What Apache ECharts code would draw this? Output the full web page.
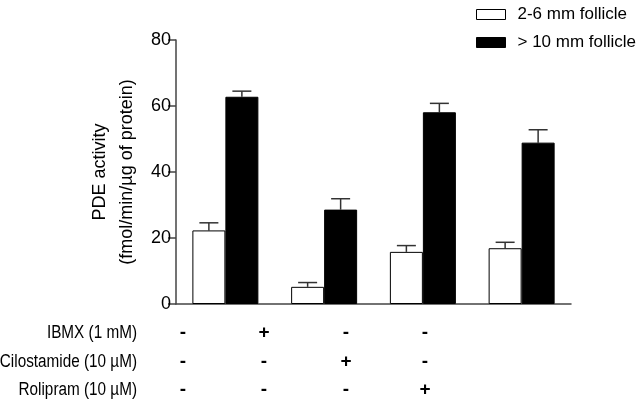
<!DOCTYPE html>
<html>
<head>
<meta charset="utf-8">
<script src="https://cdn.jsdelivr.net/npm/echarts@6/dist/echarts.min.js"></script>
<style>html,body{margin:0;padding:0;background:#fff}#c{width:640px;height:409px}</style>
</head>
<body>
<div id="c"></div>
<script>
var categories = ['Control', 'IBMX', 'Cilostamide', 'Rolipram'];
var seriesNames = ['2-6 mm follicle', '> 10 mm follicle'];
var smallFollicle = [22.3, 5.2, 15.8, 16.9];
var smallFollicleErr = [2.3, 1.3, 1.9, 1.8];
var largeFollicle = [62.8, 28.6, 58.1, 48.9];
var largeFollicleErr = [1.7, 3.3, 2.7, 3.9];
var yTicks = [0, 20, 40, 60, 80];
var yTitle = ['PDE activity', '(fmol/min/\u00b5g of protein)'];
var treatmentLabels = ['IBMX (1 mM)', 'Cilostamide (10 \u00b5M)', 'Rolipram (10 \u00b5M)'];
var treatmentSigns = [
  ['-', '+', '-', '-'],
  ['-', '-', '+', '-'],
  ['-', '-', '-', '+']
];

var FONT = 'Liberation Sans, Arial, Helvetica, sans-serif';
var BAR_W = 33;
var chart = echarts.init(document.getElementById('c'));

function errSeries(vals, errs, offsetSign) {
  return {
    type: 'custom',
    silent: true,
    z: 1,
    data: vals.map(function (v, i) { return [i, v, v + errs[i]]; }),
    renderItem: function (params, api) {
      var base = api.coord([api.value(0), api.value(1)]);
      var top = api.coord([api.value(0), api.value(2)]);
      var x = base[0] + offsetSign * BAR_W / 2;
      var hw = 9.5;
      var st = { stroke: '#333', lineWidth: 1.5 };
      return {
        type: 'group',
        children: [
          { type: 'line', shape: { x1: x, y1: base[1], x2: x, y2: top[1] }, style: st },
          { type: 'line', shape: { x1: x - hw, y1: top[1], x2: x + hw, y2: top[1] }, style: st }
        ]
      };
    }
  };
}

var graphics = [];
graphics.push({
  type: 'text',
  x: 114, y: 172,
  rotation: Math.PI / 2,
  style: {
    text: yTitle.join('\n'),
    font: '18px ' + FONT,
    fill: '#000',
    textAlign: 'center',
    textVerticalAlign: 'middle',
    lineHeight: 27
  }
});
var rowY = [333, 362, 390];
var signX = [183, 264, 346, 425];
treatmentLabels.forEach(function (lab, r) {
  graphics.push({
    type: 'text', x: 137, y: rowY[r], scaleX: 0.85,
    style: { text: lab, font: '18px ' + FONT, fill: '#000', textAlign: 'right', textVerticalAlign: 'middle' }
  });
  treatmentSigns[r].forEach(function (s, c) {
    graphics.push({
      type: 'text', x: signX[c], y: rowY[r],
      style: { text: s, font: 'bold 19px ' + FONT, fill: '#000', textAlign: 'center', textVerticalAlign: 'middle' }
    });
  });
});

chart.setOption({
  animation: false,
  backgroundColor: '#fff',
  textStyle: { fontFamily: FONT },
  grid: { left: 176, right: 69, top: 40, bottom: 105, containLabel: false },
  legend: {
    orient: 'vertical',
    left: 471, top: 1,
    itemWidth: 29, itemHeight: 10,
    itemGap: 11,
    textStyle: { fontSize: 17, color: '#000', fontFamily: FONT, padding: [0, 0, 0, 7] },
    data: [
      { name: seriesNames[0], icon: 'rect', itemStyle: { color: '#fff', borderColor: '#000', borderWidth: 1 } },
      { name: seriesNames[1], icon: 'rect', itemStyle: { color: '#000', borderColor: '#000', borderWidth: 1 } }
    ]
  },
  xAxis: {
    type: 'category',
    data: categories,
    axisLine: { show: true, lineStyle: { color: '#444', width: 1.5 } },
    axisTick: { show: false },
    axisLabel: { show: false },
    splitLine: { show: false }
  },
  yAxis: {
    type: 'value',
    min: yTicks[0], max: yTicks[yTicks.length - 1], interval: 20,
    axisLine: { show: true, lineStyle: { color: '#444', width: 1.5 } },
    axisTick: { show: true, inside: false, length: 8, lineStyle: { color: '#444', width: 1.5 } },
    axisLabel: { fontSize: 18, color: '#000', fontFamily: FONT, margin: 5 },
    splitLine: { show: false }
  },
  series: [
    {
      name: seriesNames[0], type: 'bar', data: smallFollicle, barWidth: BAR_W, barGap: '0%', z: 2,
      itemStyle: { color: '#fff', borderColor: '#000', borderWidth: 1 }
    },
    {
      name: seriesNames[1], type: 'bar', data: largeFollicle, barWidth: BAR_W, barGap: '0%', z: 2,
      itemStyle: { color: '#000', borderColor: '#000', borderWidth: 1 }
    },
    errSeries(smallFollicle, smallFollicleErr, -1),
    errSeries(largeFollicle, largeFollicleErr, 1)
  ],
  graphic: graphics
});
</script>
</body>
</html>
